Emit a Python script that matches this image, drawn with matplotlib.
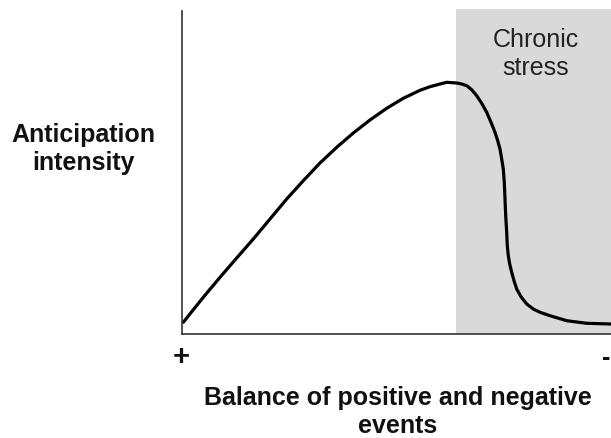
import matplotlib
matplotlib.use("Agg")
import matplotlib.pyplot as plt

plt.rcParams['font.family'] = ['Liberation Sans', 'DejaVu Sans']

# curve (x: balance axis, y: anticipation intensity)
curve_x = [1.3, 11.3, 21.3, 38, 54.7, 71.3, 88, 104.7, 121.3, 138, 154.7,
           171.3, 188, 204.7, 221.3, 238, 248, 258, 264.7, 274.7, 279.7,
           284.7, 289.7, 294.7, 299.7, 304.7, 309, 313, 315.7, 318, 319.7,
           321.3, 322.3, 323, 323.7, 324.7, 325.3, 326.3, 327.7, 329.7, 332,
           334.7, 339, 344.7, 351.3, 358, 368, 384.7, 404.7, 429]
curve_y = [11.7, 24.3, 36.7, 56.7, 76, 95, 115, 135, 153.3, 171, 186.7,
           201, 214, 225.7, 235.7, 243.7, 247.3, 250, 251.7, 251, 250,
           248.3, 244.3, 238.3, 230.7, 221.7, 211.7, 201.7, 193.3, 185, 175,
           165, 151.7, 135, 118.3, 101.7, 88.3, 78.3, 70, 61.7, 53.3,
           45, 37.3, 30, 25, 21.7, 18.3, 13.3, 10.7, 10]

stress_start = 274
x_max = 429
y_max = 325
y_axis_top = 323

W, H = 611, 439
fig = plt.figure(figsize=(W / 100, H / 100), dpi=100)
ax = fig.add_axes([182 / W, (H - 335) / H, (W - 182) / W, 325 / H])

ax.axvspan(stress_start, x_max, color='#d9d9d9', lw=0, zorder=0)
ax.plot(curve_x, curve_y, color='black', lw=2.3, solid_capstyle='round',
        solid_joinstyle='round', zorder=3)

ax.set_xlim(0, x_max)
ax.set_ylim(0, y_max)
for s in ['top', 'right']:
    ax.spines[s].set_visible(False)
ax.spines['left'].set_bounds(0, y_axis_top)
for s in ['left', 'bottom']:
    ax.spines[s].set_color('#333333')
    ax.spines[s].set_linewidth(1.2)
    ax.spines[s].set_zorder(4)
ax.set_xticks([])
ax.set_yticks([])

txt = '#111111'
fig.text(536 / W, 1 - 54 / H, 'Chronic\nstress', ha='center', va='center',
         fontsize=18, color='#222222', linespacing=1.2)
fig.text(83 / W, 1 - 149 / H, 'Anticipation\nintensity', ha='center', va='center',
         fontsize=18, fontweight='bold', color=txt, linespacing=1.2)
fig.text(398 / W, 1 - 412 / H, 'Balance of positive and negative\nevents',
         ha='center', va='center', fontsize=18, fontweight='bold', color=txt,
         linespacing=1.2)
fig.text(181 / W, 1 - 357 / H, '+', ha='center', va='center',
         fontsize=21, fontweight='bold', color=txt)
fig.text(610 / W, 1 - 358 / H, '-', ha='right', va='center',
         fontsize=18, fontweight='bold', color=txt)

fig.savefig('out.png', dpi=100)
